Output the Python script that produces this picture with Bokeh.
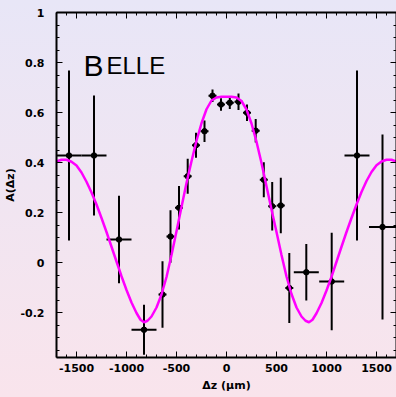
from bokeh.plotting import figure
from bokeh.models import (Range1d, LinearAxis, SingleIntervalTicker, CustomJSTickFormatter,
                          Label, ColumnDataSource)
from bokeh.embed import file_html
from bokeh.resources import INLINE

# ---- data ----
dz = [-1575, -1325, -1075, -825, -640, -560, -475, -388, -305, -220, -140, -55,
      33, 120, 205, 292, 373, 457, 543, 628, 798, 1052, 1305, 1560]
dz_err = [125, 125, 125, 125, 40, 40, 40, 40, 40, 40, 40, 40,
          40, 40, 40, 40, 40, 40, 40, 40, 125, 125, 125, 135]
asym = [0.428, 0.428, 0.092, -0.269, -0.128, 0.104, 0.219, 0.345, 0.469, 0.525, 0.667, 0.632,
        0.639, 0.643, 0.599, 0.527, 0.331, 0.225, 0.228, -0.102, -0.039, -0.076, 0.428, 0.142]
asym_err = [0.34, 0.24, 0.175, 0.10, 0.133, 0.105, 0.087, 0.07, 0.05, 0.043, 0.025, 0.025,
            0.025, 0.033, 0.033, 0.047, 0.07, 0.097, 0.111, 0.14, 0.113, 0.195, 0.34, 0.37]

curve_x = [-1700, -1650, -1600, -1550, -1500, -1450, -1400, -1350, -1300, -1250, -1200, -1150,
           -1100, -1050, -1000, -950, -900, -860, -825, -790, -750, -700, -650, -600, -550,
           -500, -450, -400, -350, -300, -250, -200, -150, -100, -50, 0, 50, 100, 150, 200,
           250, 300, 350, 400, 450, 500, 550, 600, 650, 700, 750, 790, 825, 860, 900, 950,
           1000, 1050, 1100, 1150, 1200, 1250, 1300, 1350, 1400, 1450, 1500, 1550, 1600,
           1650, 1700]
curve_y = [0.404, 0.411, 0.411, 0.403, 0.388, 0.360, 0.323, 0.280, 0.232, 0.178, 0.122, 0.063,
           0.004, -0.055, -0.110, -0.160, -0.202, -0.229, -0.239, -0.233, -0.216, -0.180,
           -0.128, -0.058, 0.030, 0.125, 0.222, 0.318, 0.405, 0.487, 0.557, 0.613, 0.648,
           0.660, 0.663, 0.663, 0.663, 0.660, 0.646, 0.612, 0.556, 0.483, 0.398, 0.305,
           0.212, 0.122, 0.030, -0.056, -0.126, -0.180, -0.216, -0.233, -0.239, -0.229,
           -0.203, -0.162, -0.112, -0.057, 0.003, 0.063, 0.122, 0.178, 0.232, 0.282, 0.326,
           0.362, 0.389, 0.404, 0.411, 0.411, 0.404]

x_title = "\u0394z (\u03bcm)"
y_title = "A(\u0394z)"

# ---- figure ----
p = figure(width=396, height=397, output_backend="svg", toolbar_location=None,
           x_range=Range1d(-1700, 1700), y_range=Range1d(-0.38, 1.0),
           min_border_left=56, min_border_right=0, min_border_top=12, min_border_bottom=40,
           x_axis_location=None, y_axis_location=None)
p.background_fill_color = None
p.border_fill_color = None
p.outline_line_color = None
p.grid.visible = False
p.styles = {"background": "linear-gradient(to bottom, #E8E6F7, #F9E4EC)"}

fmt = CustomJSTickFormatter(code="return Number(tick.toFixed(2)).toString();")
empty = CustomJSTickFormatter(code="return '';")

def style(ax, labels=True):
    ax.axis_line_width = 2
    ax.axis_line_color = "black"
    ax.major_tick_in = 6
    ax.major_tick_out = 0
    ax.minor_tick_in = 3
    ax.minor_tick_out = 0
    ax.major_tick_line_width = 1
    ax.minor_tick_line_width = 1
    ax.major_tick_line_color = "black"
    ax.minor_tick_line_color = "black"
    if labels:
        ax.major_label_text_font = "DejaVu Sans"
        ax.major_label_text_font_style = "bold"
        ax.major_label_text_font_size = "11px"
        ax.major_label_text_color = "black"
        ax.axis_label_text_font = "DejaVu Sans"
        ax.axis_label_text_font_style = "bold"
        ax.axis_label_text_font_size = "11px"
        ax.axis_label_text_color = "black"
    else:
        ax.major_label_text_font_size = "0px"
        ax.major_label_standoff = 0

xt = SingleIntervalTicker(interval=500, num_minor_ticks=5)
yt = SingleIntervalTicker(interval=0.2, num_minor_ticks=4)

xb = LinearAxis(ticker=xt, formatter=fmt, axis_label=x_title)
style(xb)
xb.major_label_standoff = 6
xb.axis_label_standoff = 4
p.add_layout(xb, "below")

xa = LinearAxis(ticker=xt, formatter=empty)
style(xa, labels=False)
p.add_layout(xa, "above")

yl = LinearAxis(ticker=yt, formatter=fmt, axis_label=y_title)
style(yl)
yl.major_label_standoff = 12
yl.axis_label_standoff = 0
p.add_layout(yl, "left")

yr = LinearAxis(ticker=yt, formatter=empty)
style(yr, labels=False)
p.add_layout(yr, "right")

# ---- error bars and points ----
src = ColumnDataSource(dict(
    x=dz, y=asym,
    x0=[a - e for a, e in zip(dz, dz_err)], x1=[a + e for a, e in zip(dz, dz_err)],
    y0=[a - e for a, e in zip(asym, asym_err)], y1=[a + e for a, e in zip(asym, asym_err)],
))
p.segment(x0="x", x1="x", y0="y0", y1="y1", source=src, line_color="black", line_width=2)
p.segment(x0="x0", x1="x1", y0="y", y1="y", source=src, line_color="black", line_width=2)
p.scatter(x="x", y="y", source=src, marker="circle", size=5.5, fill_color="black", line_color="black")

# ---- fit curve ----
p.line(curve_x, curve_y, line_color="#FF00FF", line_width=2.5)

# ---- Belle label (small caps) ----
p.add_layout(Label(x=-1430, y=0.79, text="B", text_font="Liberation Sans",
                   text_font_size="30px", text_color="black", text_baseline="alphabetic"))
p.add_layout(Label(x=-1200, y=0.79, text="ELLE", text_font="Liberation Sans",
                   text_font_size="24px", text_color="black", text_baseline="alphabetic"))

open("out.html", "w").write(file_html(p, INLINE))
